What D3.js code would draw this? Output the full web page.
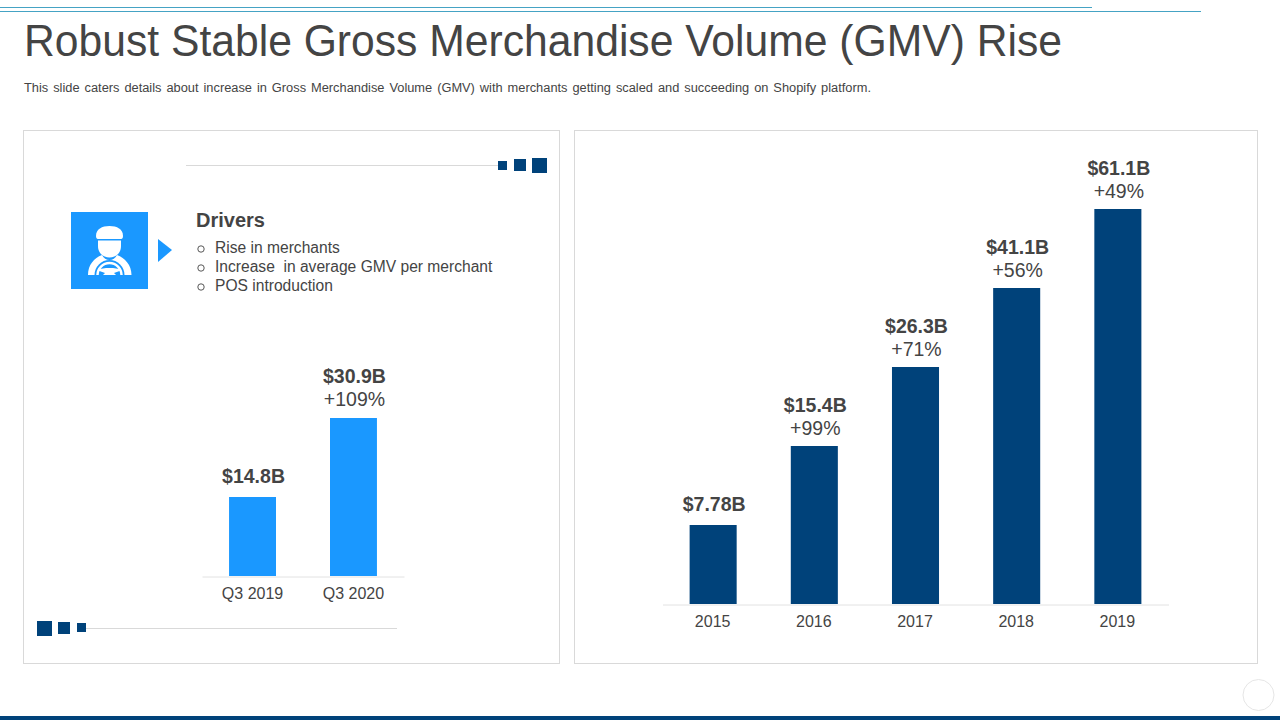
<!DOCTYPE html>
<html><head><meta charset="utf-8">
<script src="https://cdn.jsdelivr.net/npm/d3@7"></script>
<style>
html,body{margin:0;padding:0;background:#fff;overflow:hidden}
svg{display:block}
text{font-family:"Liberation Sans",Arial,sans-serif;fill:#444444}
</style></head><body><svg id="c" width="1280" height="720"></svg>
<script>
const titleText = "Robust Stable Gross Merchandise Volume (GMV) Rise";
const subtitleText = "This slide caters details about increase in Gross Merchandise Volume (GMV) with merchants getting scaled and succeeding on Shopify platform.";
const driversHeading = "Drivers";
const driverItems = ["Rise in merchants", "Increase  in average GMV per merchant", "POS introduction"];

const quarterCategories = ["Q3 2019", "Q3 2020"];
const quarterBarLevels = [1, 2];
const quarterValueLabels = ["$14.8B", "$30.9B"];
const quarterGrowthLabels = ["", "+109%"];

const yearCategories = ["2015", "2016", "2017", "2018", "2019"];
const yearBarLevels = [1, 2, 3, 4, 5];
const yearValueLabels = ["$7.78B", "$15.4B", "$26.3B", "$41.1B", "$61.1B"];
const yearGrowthLabels = ["", "+99%", "+71%", "+56%", "+49%"];

const NAVY = "#00427a", BLUE = "#1a98ff", RULE = "#d9d9d9", INK = "#444444";
const svg = d3.select("#c");

// Top rules and bottom band
svg.append("rect").attr("x",0).attr("y",7).attr("width",1092).attr("height",1).attr("fill","#45a3c4");
svg.append("rect").attr("x",0).attr("y",11).attr("width",1201).attr("height",1).attr("fill","#45a3c4");
svg.append("rect").attr("x",0).attr("y",716).attr("width",1280).attr("height",4).attr("fill",NAVY);
svg.append("circle").attr("cx",1258.5).attr("cy",695).attr("r",15.5).attr("fill","#fff").attr("stroke","#e6e6e6");

// Title
svg.append("text").attr("x",24).attr("y",55.5).attr("font-size",43.5).attr("textLength",1038).attr("lengthAdjust","spacingAndGlyphs").text(titleText);
svg.append("text").attr("x",24).attr("y",91.5).attr("font-size",12).attr("word-spacing",1.3).attr("textLength",847).attr("lengthAdjust","spacingAndGlyphs").text(subtitleText);

// Panels
svg.append("rect").attr("x",23.5).attr("y",130.5).attr("width",536).attr("height",533).attr("fill","#fff").attr("stroke",RULE);
svg.append("rect").attr("x",574.5).attr("y",130.5).attr("width",683).attr("height",533).attr("fill","#fff").attr("stroke",RULE);

// Decorative rules with squares
svg.append("line").attr("x1",186).attr("x2",498).attr("y1",165.5).attr("y2",165.5).attr("stroke",RULE);
[[498,161,9],[514,159,12],[532,158,15]].forEach(([x,y,s])=>svg.append("rect").attr("x",x).attr("y",y).attr("width",s).attr("height",s).attr("fill",NAVY));
svg.append("line").attr("x1",86).attr("x2",397).attr("y1",628.5).attr("y2",628.5).attr("stroke",RULE);
[[37,621,15],[58,622,12],[77,623,9]].forEach(([x,y,s])=>svg.append("rect").attr("x",x).attr("y",y).attr("width",s).attr("height",s).attr("fill",NAVY));

// Driver icon
const icon = svg.append("g");
icon.append("rect").attr("x",71).attr("y",212).attr("width",77).attr("height",77).attr("fill",BLUE);
icon.append("path").attr("fill","#fff").attr("d","M96 236 C96 229 102 226 109.500 226 C117 226 123 229 123 236 C123 238.500 122 239 120 239 L99 239 C97 239 96 238.500 96 236 Z");
icon.append("path").attr("fill","#fff").attr("d","M98 240.500 L121 240.500 L121 246 C121 253 116 257.500 109.500 257.500 C103 257.500 98 253 98 246 Z");
icon.append("path").attr("fill","#fff").attr("d","M88 275 C88 265 94 258 102 255 C104 258.500 106 260 109.500 260 C113 260 115 258.500 117 255 C125 258 131.500 265 131.500 275 Z");
icon.append("path").attr("fill",BLUE).attr("d","M94.500 275 A15 15 0 0 1 124.500 275 Z");
icon.append("path").attr("fill","none").attr("stroke","#fff").attr("stroke-width",2.5).attr("d","M97.500 275 A12 12 0 0 1 121.500 275");
icon.append("path").attr("fill","#fff").attr("d","M100 269 L106 268 L113 268 L119 269 L121 270.500 L114 273 L116 275 L103 275 L105 273 L98 270.500 Z");
svg.append("path").attr("fill",BLUE).attr("d",d3.line()([[158,239],[172,250],[158,262]])+"Z");

// Driver text
svg.append("text").attr("x",196).attr("y",227).attr("font-size",20).attr("font-weight","bold").text(driversHeading);
const itemY = d3.scalePoint().domain(driverItems).range([253,291]);
driverItems.forEach(t=>{
  svg.append("circle").attr("cx",201).attr("cy",itemY(t)-4).attr("r",3.2).attr("fill","none").attr("stroke",INK).attr("stroke-width",0.9);
  svg.append("text").attr("x",215).attr("y",itemY(t)).attr("font-size",15.6).style("white-space","pre").text(t);
});

function barChart({categories, levels, values, growth, color, x0, x1, base, top, maxLevel, labelShift, labelGap, tickShift}) {
  const x = d3.scaleBand().domain(categories).range([x0,x1]).paddingInner(0.535).paddingOuter(0.268);
  const y = d3.scaleLinear().domain([0,maxLevel]).range([base,top]);
  const g = svg.append("g");
  g.selectAll("rect.bar").data(categories).join("rect").attr("class","bar")
    .attr("x",c=>x(c)).attr("width",x.bandwidth())
    .attr("y",(c,i)=>y(levels[i])).attr("height",(c,i)=>base-y(levels[i])).attr("fill",color);
  const axis = g.append("g").attr("transform",`translate(0,${base+0.5})`).call(d3.axisBottom(x).tickSize(0).tickPadding(11.5));
  axis.select(".domain").attr("stroke","#e2e2e2").attr("stroke-width",1);
  axis.selectAll("text").attr("font-size",16).attr("dx",tickShift).style("font-family",'"Liberation Sans",Arial,sans-serif').style("fill",INK);
  categories.forEach((c,i)=>{
    const cx = x(c)+x.bandwidth()/2+labelShift, t = y(levels[i]);
    const hasG = growth[i] !== "";
    g.append("text").attr("x",cx).attr("y",hasG ? t-labelGap : t-14).attr("text-anchor","middle").attr("font-size",19.500).attr("font-weight","bold").text(values[i]);
    if (hasG) g.append("text").attr("x",cx).attr("y",t-labelGap+23).attr("text-anchor","middle").attr("font-size",19.500).text(growth[i]);
  });
}
barChart({categories:quarterCategories, levels:quarterBarLevels, values:quarterValueLabels, growth:quarterGrowthLabels, color:BLUE, x0:202, x1:404, base:576, top:418, maxLevel:2, labelShift:1, labelGap:35, tickShift:0});
barChart({categories:yearCategories, levels:yearBarLevels, values:yearValueLabels, growth:yearGrowthLabels, color:NAVY, x0:662.500, x1:1168.500, base:604, top:209, maxLevel:5, labelShift:1, labelGap:34, tickShift:-0.5});
</script></body></html>
